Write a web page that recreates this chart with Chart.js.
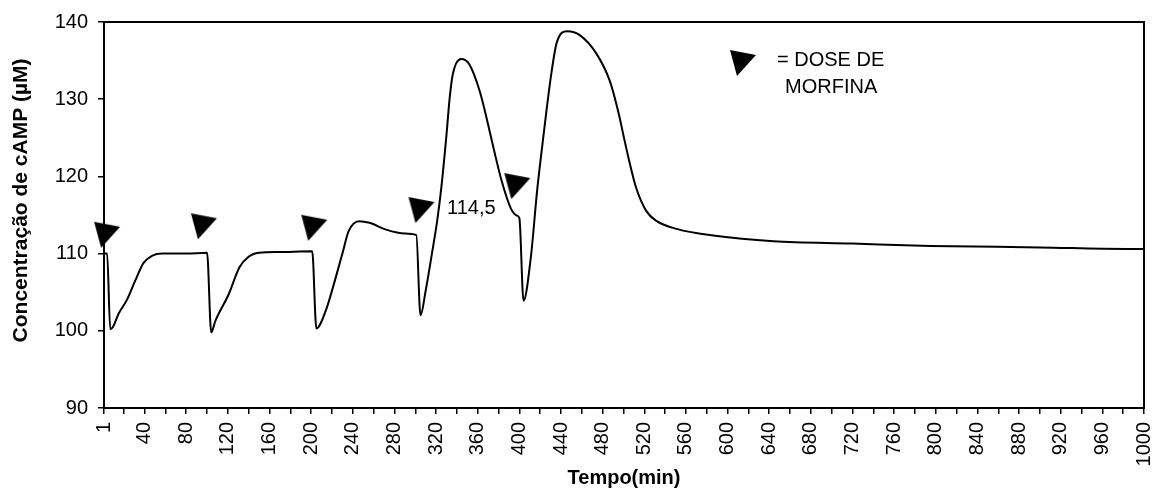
<!DOCTYPE html>
<html>
<head>
  <title>cAMP x tempo</title>
  <script src="https://cdn.jsdelivr.net/npm/chart.js"></script>
  <style>
    html, body { margin: 0; padding: 0; background: #fff; }
    #wrap { width: 1157px; height: 494px; }
  </style>
</head>
<body>
  <div id="wrap"><canvas id="camp"></canvas></div>

  <script>
    // curva de cAMP (tempo em min, concentração em µM)
    const tempo = [1, 4, 7, 10, 15, 23, 31, 39, 47, 57, 80, 100, 104, 108, 121, 131, 139, 150, 170, 201,
      205, 214, 220, 230, 236, 246, 256, 272, 290, 301, 305, 310, 316, 321, 325, 330, 333, 336, 344, 352,
      362, 370, 376, 383, 392, 398, 400, 404, 411, 417, 422, 426, 431, 436, 446, 458, 474, 487, 496, 500,
      505, 512, 522, 532, 551, 588, 644, 720, 795, 900, 983, 1000];
    const camp = [110, 110, 100.2, 100.6, 102.2, 104, 106.5, 108.8, 109.7, 110, 110, 110.1, 99.8, 101.3, 104.8, 108.2, 109.5, 110.1, 110.2, 110.3,
      100.3, 102.6, 105.2, 110, 112.9, 114.2, 114, 113.1, 112.6, 112.4, 102, 105.2, 110, 114.2, 118.5, 125.4, 130.1, 133.2, 135.2, 134.5,
      131, 126.7, 123.2, 119.4, 115.8, 114.9, 114.6, 103.9, 109.5, 118.1, 124, 128.5, 133.6, 137.4, 138.8, 138.3, 135.9, 132.3, 127.8, 125.3,
      122.3, 118.6, 115.5, 114.2, 113.2, 112.3, 111.6, 111.3, 111.0, 110.8, 110.6, 110.6];

    // doses de morfina (posição das setas)
    const doseTempo = [3, 96, 202, 305, 397];
    const doseNivel = [112.7, 113.8, 113.6, 115.9, 119.0];

    const xTicks = [1];
    for (let v = 20; v <= 1000; v += 20) xTicks.push(v);
    const yTicks = [90, 100, 110, 120, 130, 140];

    const FONT = 'Liberation Sans, Arial, sans-serif';

    // seta (triângulo) desenhada num canvas
    function makeArrow() {
      const c = document.createElement('canvas');
      c.width = 32; c.height = 32;
      const g = c.getContext('2d');
      g.fillStyle = '#000';
      g.beginPath();
      g.moveTo(4, 5);
      g.lineTo(30, 10);
      g.lineTo(11, 31);
      g.closePath();
      g.fill();
      return c;
    }
    const arrow = makeArrow();

    const extras = {
      id: 'extras',
      afterDraw(chart) {
        const { ctx, chartArea: a } = chart;
        ctx.save();
        ctx.strokeStyle = '#000';
        ctx.lineWidth = 2;
        ctx.strokeRect(a.left, a.top, a.right - a.left, a.bottom - a.top);

        ctx.fillStyle = '#000';
        ctx.font = '20px ' + FONT;
        ctx.textBaseline = 'middle';
        ctx.textAlign = 'left';
        ctx.fillText('114,5', 447, 208);

        ctx.drawImage(arrow, 742 - 16, 61 - 16);
        ctx.fillText('= DOSE DE', 777, 60);
        ctx.fillText('MORFINA', 785, 87);
        ctx.restore();
      }
    };

    new Chart(document.getElementById('camp'), {
      type: 'scatter',
      data: {
        datasets: [{
          data: tempo.map((t, i) => ({ x: t, y: camp[i] })),
          showLine: true,
          borderColor: '#000',
          borderWidth: 2,
          pointRadius: 0,
          cubicInterpolationMode: 'monotone'
        }, {
          data: doseTempo.map((t, i) => ({ x: t, y: doseNivel[i] })),
          pointStyle: arrow,
          pointRadius: 16,
          clip: false
        }]
      },
      options: {
        responsive: true,
        maintainAspectRatio: false,
        animation: false,
        layout: { autoPadding: false, padding: { top: 20, right: 13, left: 0, bottom: 0 } },
        plugins: { legend: { display: false }, tooltip: { enabled: false } },
        scales: {
          x: {
            type: 'linear',
            min: 1,
            max: 1000,
            afterBuildTicks: s => { s.ticks = xTicks.map(v => ({ value: v })); },
            afterFit: s => { s.height = 86; s.paddingLeft = 0; s.paddingRight = 0; },
            ticks: {
              autoSkip: false,
              minRotation: 90,
              maxRotation: 90,
              padding: 8,
              color: '#000',
              font: { family: FONT, size: 20 },
              callback: v => (v === 1 || v % 40 === 0) ? String(v) : ''
            },
            grid: { drawOnChartArea: false, drawTicks: true, tickLength: 6, color: '#000', lineWidth: 1.5 },
            border: { color: '#000', width: 2 },
            title: {
              display: true,
              text: 'Tempo(min)',
              color: '#000',
              font: { family: FONT, size: 20, weight: 'bold' },
              padding: { top: 0, bottom: 4 }
            }
          },
          y: {
            min: 90,
            max: 140,
            afterBuildTicks: s => { s.ticks = yTicks.map(v => ({ value: v })); },
            afterFit: s => { s.width = 104; },
            ticks: {
              padding: 10,
              color: '#000',
              font: { family: FONT, size: 20 }
            },
            grid: { drawOnChartArea: false, drawTicks: true, tickLength: 6, color: '#000', lineWidth: 1.5 },
            border: { color: '#000', width: 2 },
            title: {
              display: true,
              text: '     Concentração de cAMP (µM)',
              color: '#000',
              font: { family: FONT, size: 21, weight: 'bold' },
              padding: { top: 9, bottom: 0 }
            }
          }
        }
      },
      plugins: [extras]
    });
  </script>
</body>
</html>
